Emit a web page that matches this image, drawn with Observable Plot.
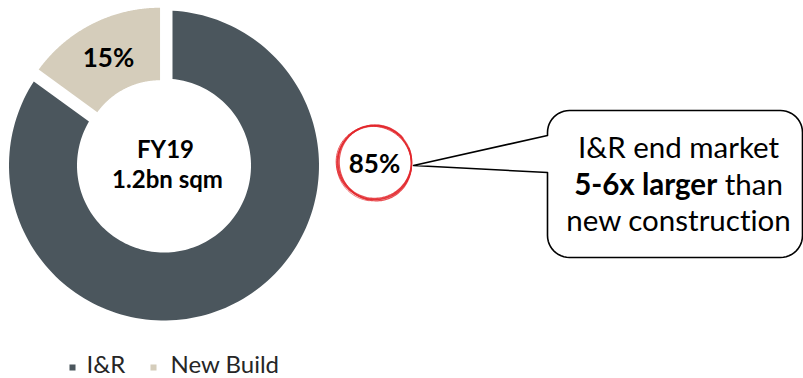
<!DOCTYPE html>
<html>
<head>
<meta charset="utf-8">
<script src="https://cdn.jsdelivr.net/npm/d3@7"></script>
<script src="https://cdn.jsdelivr.net/npm/@observablehq/plot@0.6"></script>
<style>
  html, body { margin: 0; padding: 0; background: #ffffff; }
  #chart { width: 803px; height: 378px; overflow: hidden; }
  #chart svg text { font-variant-ligatures: none; font-feature-settings: "liga" 0, "clig" 0; }
</style>
</head>
<body>
<div id="chart"></div>
<script>
// ---------- data ----------
const categories = ["I&R", "New Build"];
const shares = [85, 15];
const shareLabels = ["85%", "15%"];
const centerLines = ["FY19", "1.2bn sqm"];
const calloutLine1 = "I&R end market";
const calloutBold = "5-6x larger";
const calloutRest = " than";
const calloutLine3 = "new construction";

// ---------- styles / layout ----------
const W = 803, H = 378;
const FONT = "Lato, 'Open Sans', sans-serif";
const colors = ["#4b565d", "#d5cdbb"];
const pieCenter = [163.5, 165];
const sliceStyle = {
  "I&R": {outer: 155, inner: 87, pad: 8.5, explode: 0},
  "New Build": {outer: 150, inner: 77.5, pad: 0, explode: 8.7}
};

// ---------- geometry from data ----------
const pieData = categories.map((c, i) => ({category: c, value: shares[i], label: shareLabels[i]}));
const arcs = d3.pie().sort(null).value(d => d.value)(pieData);

function arcPolygon(arc) {
  const s = sliceStyle[arc.data.category];
  const mid = (arc.startAngle + arc.endAngle) / 2;
  const cx = pieCenter[0] + s.explode * Math.sin(mid);
  const cy = pieCenter[1] - s.explode * Math.cos(mid);
  const oa = Math.asin(s.pad / s.outer), ia = Math.asin(s.pad / s.inner);
  const n = 160, pts = [];
  for (let i = 0; i <= n; i++) {
    const a = arc.startAngle + oa + (arc.endAngle - arc.startAngle - 2 * oa) * i / n;
    pts.push({category: arc.data.category, x: cx + s.outer * Math.sin(a), y: cy - s.outer * Math.cos(a)});
  }
  for (let i = 0; i <= n; i++) {
    const a = arc.endAngle - ia - (arc.endAngle - arc.startAngle - 2 * ia) * i / n;
    pts.push({category: arc.data.category, x: cx + s.inner * Math.sin(a), y: cy - s.inner * Math.cos(a)});
  }
  return pts;
}
const slicePts = arcs.flatMap(arcPolygon);

// callout bubble outline
function bubble(x0, x1, y0, y1, rad, pTop, pBot, tip) {
  const pts = [];
  const corner = (cx, cy, a0, a1) => {
    for (let i = 0; i <= 12; i++) {
      const a = a0 + (a1 - a0) * i / 12;
      pts.push({x: cx + rad * Math.cos(a), y: cy + rad * Math.sin(a)});
    }
  };
  corner(x1 - rad, y0 + rad, -Math.PI / 2, 0);
  corner(x1 - rad, y1 - rad, 0, Math.PI / 2);
  corner(x0 + rad, y1 - rad, Math.PI / 2, Math.PI);
  pts.push({x: x0, y: pBot});
  pts.push({x: tip[0], y: tip[1]});
  pts.push({x: x0, y: pTop});
  corner(x0 + rad, y0 + rad, Math.PI, 1.5 * Math.PI);
  pts.push(pts[0]);
  return pts;
}
const bubblePts = bubble(547, 802, 110, 257, 22, 135, 172, [413, 165]);

// hand-drawn red ring around 85%
const ringC = [374, 162];
const ringPasses = [
  {dx: 0, dy: 0, rx: 37, ry: 37, rot: 0.2, start: 0.3, turns: 1.08, w: 1.7},
  {dx: 0.9, dy: 0.7, rx: 36.0, ry: 37.8, rot: -0.3, start: 1.6, turns: 1.05, w: 1.2},
  {dx: -0.7, dy: 0.5, rx: 38.0, ry: 36.3, rot: 0.5, start: 3.5, turns: 1.0, w: 1.0},
  {dx: 0.3, dy: -0.8, rx: 36.6, ry: 36.8, rot: 0.9, start: 5.0, turns: 0.95, w: 1.3},
  {dx: -0.4, dy: 1.2, rx: 37.5, ry: 37.2, rot: -0.7, start: 2.4, turns: 0.9, w: 0.8}
];
const ringPts = ringPasses.flatMap((p, k) => {
  const out = [];
  const n = 140;
  for (let i = 0; i <= n; i++) {
    const t = p.start + 2 * Math.PI * p.turns * i / n;
    const ex = p.rx * Math.cos(t), ey = p.ry * Math.sin(t);
    out.push({k, w: p.w,
      x: ringC[0] + p.dx + ex * Math.cos(p.rot) - ey * Math.sin(p.rot),
      y: ringC[1] + p.dy + ex * Math.sin(p.rot) + ey * Math.cos(p.rot)});
  }
  return out;
});

// mixed-weight line measurement
const ctx = document.createElement("canvas").getContext("2d");
const calloutSize = 29.5;
ctx.font = `bold ${calloutSize}px Lato`;
const wBold = ctx.measureText(calloutBold).width;
ctx.font = `${calloutSize}px Lato`;
const wRest = ctx.measureText(calloutRest).width;
const calloutCx = 678;
const splitX = calloutCx - (wBold + wRest) / 2 + wBold;

const legendItems = categories.map((c, i) => ({category: c, color: colors[i]}));
const legendMarkX = [72, 153];
const legendTextX = [86, 170];

const chart = Plot.plot({
  width: W,
  height: H,
  margin: 0,
  style: {fontFamily: FONT, background: "#ffffff", overflow: "visible"},
  x: {domain: [0, W], range: [0, W], axis: null},
  y: {domain: [0, H], range: [0, H], axis: null},
  color: {domain: categories, range: colors},
  marks: [
    // slices
    Plot.line(slicePts, {x: "x", y: "y", z: "category", fill: "category", stroke: null, curve: "linear"}),
    // bubble
    Plot.line(bubblePts, {x: "x", y: "y", fill: "#ffffff", stroke: "#000000", strokeWidth: 1.6, strokeLinejoin: "round"}),
    // ring
    Plot.line(ringPts, {x: "x", y: "y", z: "k", stroke: "#e2252b", strokeWidth: "w", strokeOpacity: 0.8, fill: null, curve: "catmull-rom"}),
    // slice labels
    Plot.text([arcs[1]], {x: () => 108, y: () => 58, text: d => d.data.label, fontSize: 26, fontWeight: "bold", fill: "#000"}),
    Plot.text([arcs[0]], {x: () => 374, y: () => 164, text: d => d.data.label, fontSize: 26, fontWeight: "bold", fill: "#000"}),
    // center labels
    Plot.text(centerLines, {x: [165, 167], y: [150, 180], text: d => d, fontSize: 24, fontWeight: "bold", fill: "#000"}),
    // callout text
    Plot.text([calloutLine1], {x: () => calloutCx, y: () => 148, text: d => d, fontSize: calloutSize, fill: "#000"}),
    Plot.text([calloutBold], {x: () => splitX, y: () => 185, text: d => d, fontSize: calloutSize, fontWeight: "bold", textAnchor: "end", fill: "#000"}),
    Plot.text([calloutRest], {x: () => splitX, y: () => 185, text: d => d, fontSize: calloutSize, textAnchor: "start", fill: "#000"}),
    Plot.text([calloutLine3], {x: () => calloutCx, y: () => 221, text: d => d, fontSize: calloutSize, fill: "#000"}),
    // legend
    Plot.dot(legendItems, {x: (d, i) => legendMarkX[i], y: () => 367, symbol: "square", r: 3.4, fill: d => d.color, stroke: null}),
    Plot.text(legendItems, {x: (d, i) => legendTextX[i], y: () => 365, text: "category", textAnchor: "start", fontSize: 24, fill: "#262626"})
  ]
});
document.getElementById("chart").appendChild(chart);
</script>
</body>
</html>
